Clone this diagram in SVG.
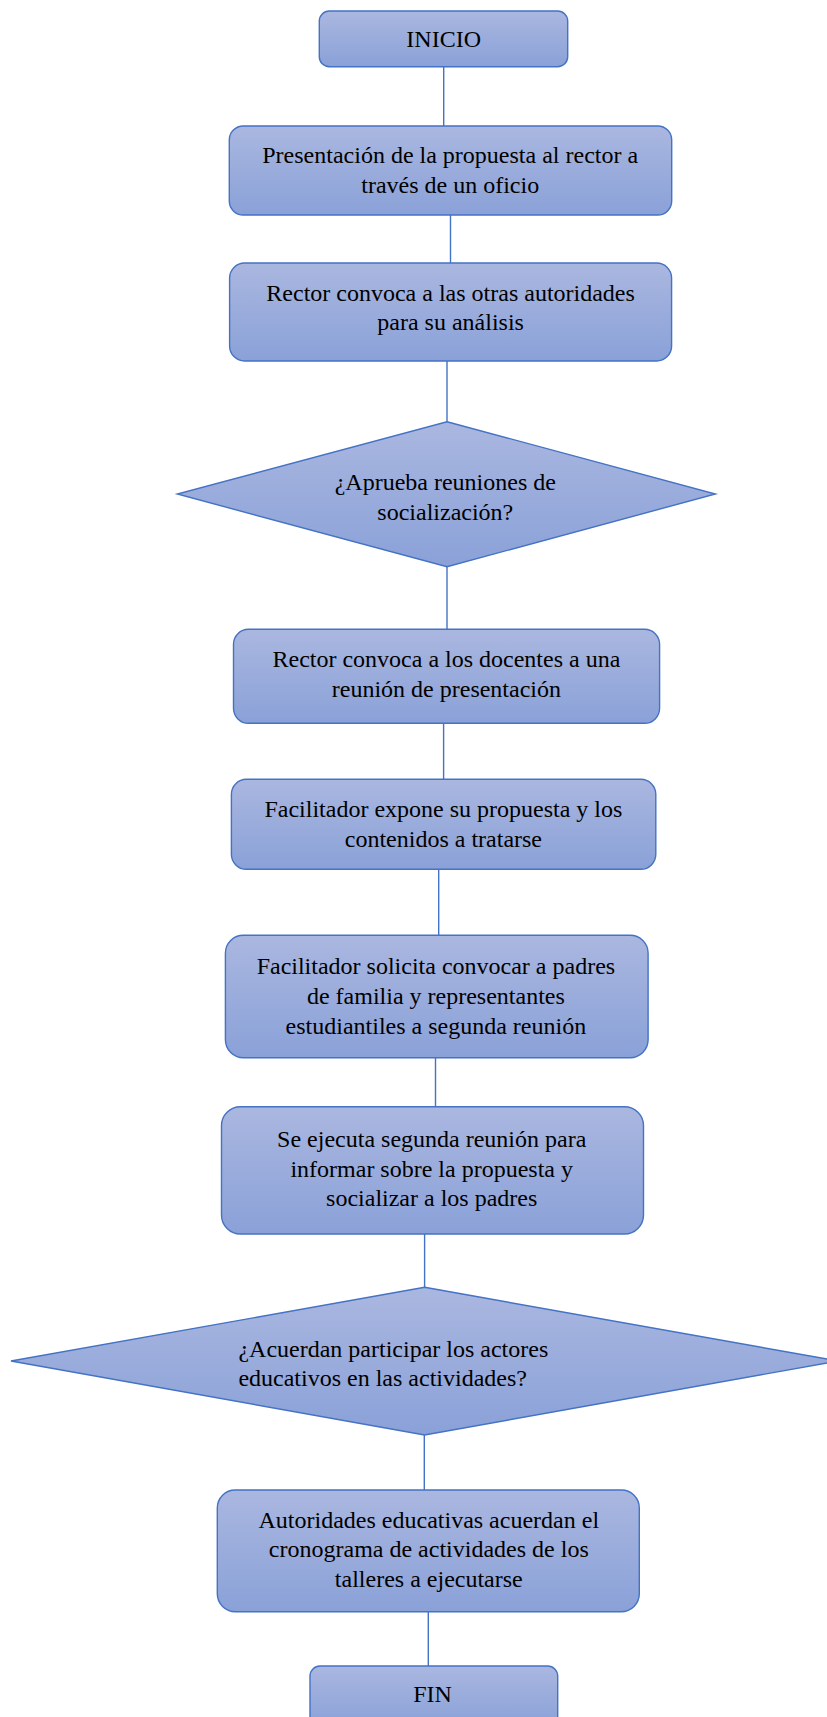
<svg xmlns="http://www.w3.org/2000/svg" width="827" height="1717" viewBox="0 0 827 1717">
<defs>
<linearGradient id="g" x1="0" y1="0" x2="0" y2="1">
<stop offset="0" stop-color="#aab7e0"/>
<stop offset="1" stop-color="#8aa1d8"/>
</linearGradient>
<style>
.n{fill:url(#g);stroke:#4472c4;stroke-width:1.4}
.c line{stroke:#4472c4;stroke-width:1.4}
text{font-family:"Liberation Serif","Times New Roman",serif;font-size:24px;fill:#000;text-anchor:middle}
</style>
</defs>
<rect width="827" height="1717" fill="#fff"/>
<g class="c" id="connectors">
<line x1="443.7" y1="66.7" x2="443.7" y2="126"/>
<line x1="450.5" y1="215" x2="450.5" y2="263"/>
<line x1="447" y1="361" x2="447" y2="421.7"/>
<line x1="447" y1="566.7" x2="447" y2="629.3"/>
<line x1="443.6" y1="723.3" x2="443.6" y2="779.3"/>
<line x1="438.7" y1="869.3" x2="438.7" y2="935.3"/>
<line x1="435.5" y1="1057.7" x2="435.5" y2="1106.7"/>
<line x1="424.6" y1="1234" x2="424.6" y2="1287.3"/>
<line x1="424.3" y1="1435" x2="424.3" y2="1490"/>
<line x1="428.3" y1="1611.7" x2="428.3" y2="1666"/>
</g>
<g id="inicio">
<rect class="n" x="319.3" y="11" width="248.4" height="55.7" rx="10"/>
<text x="443.7" y="47">INICIO</text>
</g>
<g id="presentacion">
<rect class="n" x="229.3" y="126" width="442.4" height="89" rx="14"/>
<text x="450.2" y="163.3">Presentación de la propuesta al rector a</text>
<text x="450.2" y="192.7">través de un oficio</text>
</g>
<g id="rector_autoridades">
<rect class="n" x="229.6" y="263" width="442" height="98" rx="15"/>
<text x="450.6" y="300.7">Rector convoca a las otras autoridades</text>
<text x="450.6" y="330">para su análisis</text>
</g>
<g id="decision1">
<polygon class="n" points="447,421.7 715.4,494 447,566.7 177.3,494"/>
<text x="445.3" y="490">¿Aprueba reuniones de</text>
<text x="445.3" y="520">socialización?</text>
</g>
<g id="rector_docentes">
<rect class="n" x="233.5" y="629.3" width="426.1" height="94" rx="15"/>
<text x="446.4" y="667.3">Rector convoca a los docentes a una</text>
<text x="446.4" y="696.7">reunión de presentación</text>
</g>
<g id="facilitador_expone">
<rect class="n" x="231.4" y="779.3" width="424.4" height="90" rx="15"/>
<text x="443.4" y="816.7">Facilitador expone su propuesta y los</text>
<text x="443.4" y="846.7">contenidos a tratarse</text>
</g>
<g id="facilitador_solicita">
<rect class="n" x="225.4" y="935.3" width="422.7" height="122.4" rx="18"/>
<text x="435.9" y="974.3">Facilitador solicita convocar a padres</text>
<text x="435.9" y="1004">de familia y representantes</text>
<text x="435.9" y="1034">estudiantiles a segunda reunión</text>
</g>
<g id="segunda_reunion">
<rect class="n" x="221.5" y="1106.7" width="422" height="127.3" rx="19"/>
<text x="431.7" y="1146.7">Se ejecuta segunda reunión para</text>
<text x="431.7" y="1176.7">informar sobre la propuesta y</text>
<text x="431.7" y="1206">socializar a los padres</text>
</g>
<g id="decision2">
<polygon class="n" points="424.6,1287.3 838,1361 424.6,1435 11,1361"/>
<text x="238.4" y="1356.7" style="text-anchor:start">¿Acuerdan participar los actores</text>
<text x="238.4" y="1386" style="text-anchor:start">educativos en las actividades?</text>
</g>
<g id="cronograma">
<rect class="n" x="217.3" y="1490" width="422" height="121.7" rx="18"/>
<text x="428.8" y="1528.3">Autoridades educativas acuerdan el</text>
<text x="428.8" y="1557.3">cronograma de actividades de los</text>
<text x="428.8" y="1586.7">talleres a ejecutarse</text>
</g>
<g id="fin">
<rect class="n" x="310" y="1666" width="247.7" height="60" rx="10"/>
<text x="432.5" y="1701.7">FIN</text>
</g>
</svg>
